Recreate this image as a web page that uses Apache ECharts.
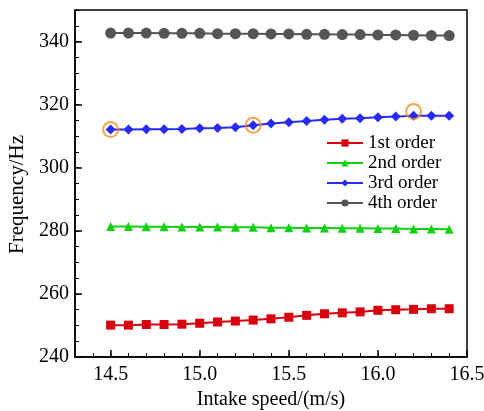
<!DOCTYPE html>
<html><head><meta charset="utf-8">
<script src="https://cdn.jsdelivr.net/npm/echarts@6/dist/echarts.min.js"></script>
<style>html,body{margin:0;padding:0;background:#fff}#c{width:484px;height:411px}</style>
</head><body><div id="c"></div>
<script>
var speeds = [14.5,14.6,14.7,14.8,14.9,15.0,15.1,15.2,15.3,15.4,15.5,15.6,15.7,15.8,15.9,16.0,16.1,16.2,16.3,16.4];
var order1 = [250.1,250.1,250.3,250.3,250.4,250.7,251.1,251.4,251.7,252.1,252.6,253.2,253.7,254.0,254.3,254.8,255.0,255.1,255.3,255.3];
var order2 = [281.4,281.4,281.3,281.3,281.2,281.2,281.2,281.1,281.1,281.0,281.0,280.9,280.9,280.8,280.8,280.7,280.7,280.6,280.6,280.5];
var order3 = [312.1,312.1,312.2,312.2,312.3,312.5,312.6,312.8,313.5,314.0,314.4,314.8,315.2,315.5,315.7,316.0,316.2,316.5,316.5,316.5];
var order4 = [342.7,342.7,342.7,342.6,342.6,342.6,342.5,342.5,342.5,342.4,342.4,342.3,342.3,342.2,342.2,342.1,342.1,342.0,341.9,341.9];
var markedX = [14.5, 15.3, 16.2];
var markedY = [312.1, 313.5, 317.8];
var seriesNames = ['1st order','2nd order','3rd order','4th order'];
var xTicks = [14.5,15.0,15.5,16.0,16.5];
var yTicks = [240,260,280,300,320,340];

var FONT = '"Liberation Serif","Times New Roman",serif';
function pairs(xs, ys){ return xs.map(function(x,i){ return [x, ys[i]]; }); }
var chart = echarts.init(document.getElementById('c'));
chart.setOption({
  animation:false,
  grid: {left:75, right:17, top:10, bottom:54, show:true, borderColor:'#000', borderWidth:1.5,
         containLabel:false, outerBoundsMode:'none'},
  legend: {
    orient:'vertical', left:321, top:128, itemWidth:36, itemHeight:9, itemGap:0,
    textStyle:{fontFamily:FONT, fontSize:19, lineHeight:20, color:'#000'},
    data: seriesNames
  },
  xAxis: [{
    type:'value', min:14.3, max:16.5, position:'bottom',
    name:'Intake speed/(m/s)', nameLocation:'middle', nameGap:33,
    nameTextStyle:{fontFamily:FONT, fontSize:20, color:'#000'},
    axisLine:{show:true, lineStyle:{color:'#000', width:1.5}},
    axisTick:{show:true, inside:true, length:7, lineStyle:{color:'#000', width:1.5}, customValues:xTicks},
    axisLabel:{fontFamily:FONT, fontSize:20, color:'#000', margin:8, customValues:xTicks,
      formatter:function(v){return v.toFixed(1);}},
    splitLine:{show:false}
  },{
    type:'value', min:14.3, max:16.5, interval:0.1, position:'bottom',
    axisLine:{show:false}, axisLabel:{show:false}, splitLine:{show:false},
    axisTick:{show:true, inside:true, length:4, lineStyle:{color:'#000', width:1}}
  }],
  yAxis: [{
    type:'value', min:240, max:350,
    name:'Frequency/Hz', nameLocation:'middle', nameGap:46,
    nameTextStyle:{fontFamily:FONT, fontSize:21, color:'#000', padding:[0,22,0,0]},
    axisLine:{show:true, lineStyle:{color:'#000', width:1.5}},
    axisTick:{show:true, inside:true, length:7, lineStyle:{color:'#000', width:1.5}, customValues:yTicks},
    axisLabel:{fontFamily:FONT, fontSize:20, color:'#000', margin:6, customValues:yTicks},
    splitLine:{show:false}
  },{
    type:'value', min:240, max:350, interval:5, position:'left',
    axisLine:{show:false}, axisLabel:{show:false}, splitLine:{show:false},
    axisTick:{show:true, inside:true, length:4, lineStyle:{color:'#000', width:1}}
  }],
  series: [
    {name:seriesNames[0], type:'line', data:pairs(speeds, order1), symbol:'rect', symbolSize:9,
     itemStyle:{color:'#d9000d'}, lineStyle:{color:'#d9000d', width:2}, z:3},
    {name:seriesNames[1], type:'line', data:pairs(speeds, order2), symbol:'triangle', symbolSize:9,
     itemStyle:{color:'#10d010'}, lineStyle:{color:'#10d010', width:2}, z:3},
    {name:seriesNames[2], type:'line', data:pairs(speeds, order3), symbol:'diamond', symbolSize:10,
     itemStyle:{color:'#2a2af5'}, lineStyle:{color:'#2a2af5', width:2}, z:3},
    {name:seriesNames[3], type:'line', data:pairs(speeds, order4), symbol:'circle', symbolSize:11,
     itemStyle:{color:'#555555'}, lineStyle:{color:'#555555', width:2}, z:3},
    {name:'marked', type:'scatter', data:pairs(markedX, markedY), symbol:'circle', symbolSize:15,
     itemStyle:{color:'transparent', borderColor:'#f28c1e', borderWidth:2}, z:4}
  ]
});
</script></body></html>
